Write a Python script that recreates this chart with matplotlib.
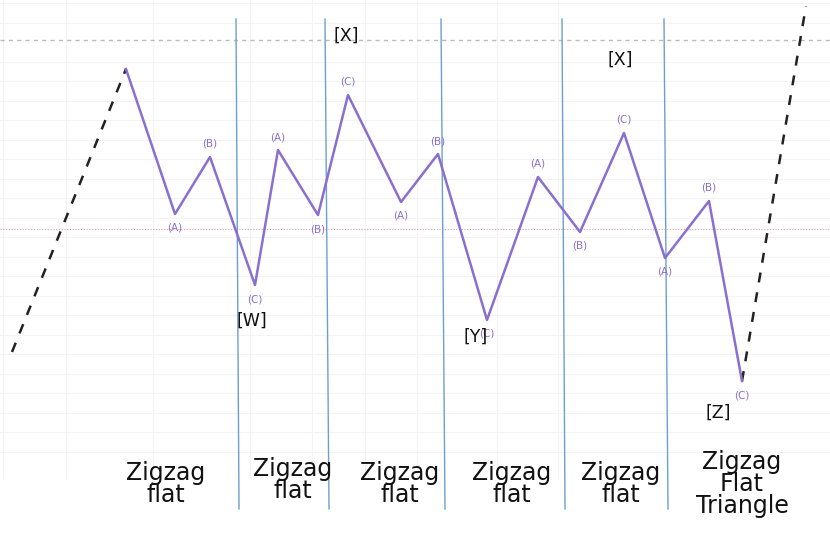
import matplotlib.pyplot as plt

# wave turning points in pixel units (y grows downwards)
wave_x = [126, 175, 210, 255, 278, 318, 348, 401, 438, 487, 538, 580, 624, 665, 709, 742]
wave_y = [69, 214, 157, 285, 150, 215, 95, 202, 154, 320, 177, 232, 133, 258, 201, 381]
wave_tags = ['', '(A)', '(B)', '(C)', '(A)', '(B)', '(C)', '(A)', '(B)', '(C)',
             '(A)', '(B)', '(C)', '(A)', '(B)', '(C)']

# dashed legs in and out of the pattern
lead_in_x = [12, 126]
lead_in_y = [352, 69]
lead_out_x = [742, 806]
lead_out_y = [381, 6]

# section dividers (top x, bottom x)
div_top = [236, 325, 441, 562, 664]
div_bottom = [239, 329, 445, 565, 668]

# big labels
wxyz_text = ['[X]', '[X]', '[W]', '[Y]', '[Z]']
wxyz_x = [346, 620, 252, 476, 718]
wxyz_y = [36, 60, 321, 337, 413]

section_text = ['Zigzag\nflat', 'Zigzag\nflat', 'Zigzag\nflat', 'Zigzag\nflat',
                'Zigzag\nflat', 'Zigzag\nFlat\nTriangle']
section_x = [166, 293, 400, 512, 621, 742]
section_y = [484, 480, 484, 484, 484, 484]

grid_h = [3, 23, 62, 81, 101, 120, 140, 159, 179, 198, 218, 237, 257, 276,
          296, 315, 335, 354, 374, 393, 413, 432, 452]
grid_v = [3, 66, 153, 250, 312, 365, 417, 497, 558]

fig = plt.figure(figsize=(8.3, 5.35), dpi=100)
ax = fig.add_axes([0, 0, 1, 1])
ax.set_xlim(0, 830)
ax.set_ylim(535, 0)
ax.axis('off')

for g in grid_h:
    ax.axhline(g, color='#f3f3f3', lw=0.8, zorder=0)
for g in grid_v:
    ax.plot([g, g], [0, 478], color='#f3f3f3', lw=0.8, zorder=0)

ax.axhline(40, color='#bbbbbb', lw=1, ls=(0, (3, 3)), zorder=1)
ax.axhline(229, color='#e89ab0', lw=0.8, ls=(0, (1, 1.5)), zorder=1)

for xt, xb in zip(div_top, div_bottom):
    ax.plot([xt, xb], [19, 509], color='#6b9fd0', lw=1, zorder=2)

ax.plot(lead_in_x, lead_in_y, color='#222222', lw=1.8, ls=(0, (4, 4)), zorder=3)
ax.plot(lead_out_x, lead_out_y, color='#222222', lw=1.8, ls=(0, (4, 4)), zorder=3)
ax.plot(wave_x, wave_y, color='#8a6fd1', lw=1.8, zorder=4)

for i in range(1, len(wave_x)):
    peak = wave_y[i] < wave_y[i - 1]
    off = -13 if peak else 14
    ax.text(wave_x[i], wave_y[i] + off, wave_tags[i], color='#8a6fd1',
            fontsize=7.5, ha='center', va='center', zorder=5)

for t, x, y in zip(wxyz_text, wxyz_x, wxyz_y):
    ax.text(x, y, t, fontsize=12.5, ha='center', va='center', color='#111111', zorder=6)

for t, x, y in zip(section_text, section_x, section_y):
    ax.text(x, y, t, fontsize=17, family='DejaVu Sans', ha='center', va='center',
            linespacing=0.9, color='#111111', zorder=6)

fig.savefig('out.png', dpi=100)
